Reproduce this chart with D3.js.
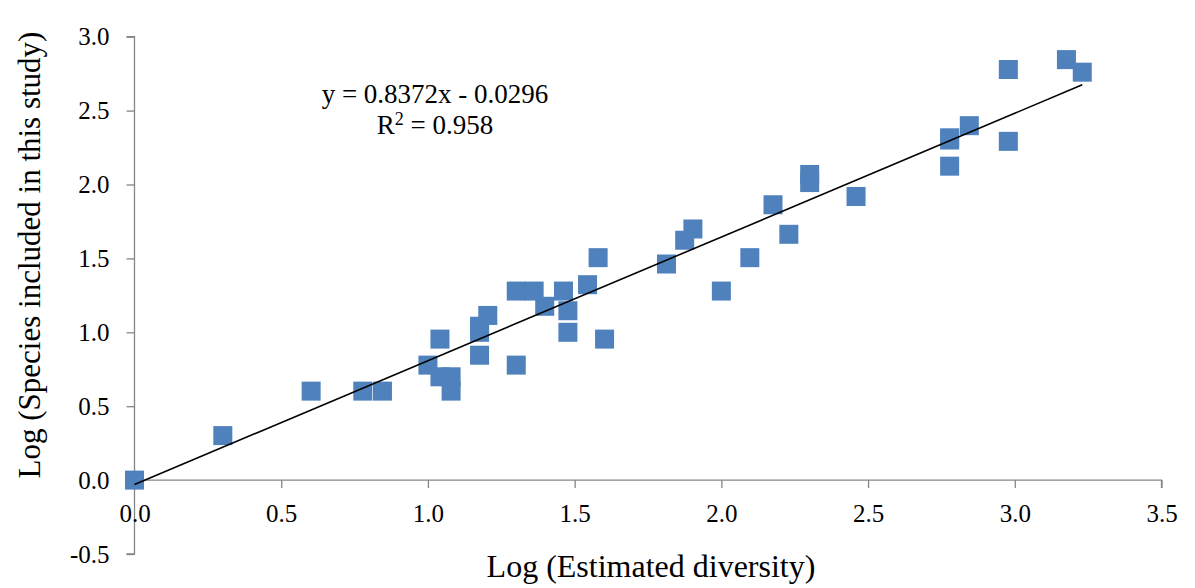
<!DOCTYPE html>
<html>
<head>
<meta charset="utf-8">
<script src="https://cdn.jsdelivr.net/npm/d3@7"></script>
<style>
  body { margin: 0; background: #fff; }
  .axis path, .axis line { stroke: #868686; stroke-width: 1.3; }
  .axis text { font-family: "Liberation Serif", serif; font-size: 25px; fill: #000; }
</style>
</head>
<body>
<div id="chart"></div>
<script>
// log values
const logEstimated = [0, 0.301, 0.602, 0.778, 0.845, 1.0, 1.041, 1.041, 1.079, 1.079,
    1.176, 1.176, 1.204, 1.176, 1.301, 1.362, 1.398, 1.462, 1.477, 1.477,
    1.301, 1.544, 1.580, 1.602, 1.813, 1.875, 1.903, 2.0, 2.097, 2.176,
    2.230, 2.301, 2.301, 2.459, 2.778, 2.778, 2.845, 2.778, 2.978, 2.978,
    3.176, 3.230];
const logIncluded = [0, 0.301, 0.602, 0.602, 0.602, 0.778, 0.954, 0.699, 0.699, 0.602,
    1.041, 1.0, 1.114, 0.845, 1.279, 1.279, 1.176, 1.279, 1.146, 1.0,
    0.778, 1.322, 1.505, 0.954, 1.462, 1.623, 1.699, 1.279, 1.505, 1.863,
    1.663, 2.068, 2.013, 1.919, 2.316, 2.301, 2.398, 2.124, 2.778, 2.292,
    2.845, 2.760];
const xTicks = [0, 0.5, 1.0, 1.5, 2.0, 2.5, 3.0, 3.5];
const yTicks = [-0.5, 0, 0.5, 1.0, 1.5, 2.0, 2.5, 3.0];
const slope = 0.8372, intercept = -0.0296, r2 = 0.958;

const W = 1195, H = 588;
const margin = { top: 36.7, right: 33.5, bottom: 34, left: 134.5 };
const width = W - margin.left - margin.right;
const height = H - margin.top - margin.bottom;

const fmt = d => d.toFixed(1);

const svg = d3.select('#chart')
    .append('svg')
    .attr('width', W)
    .attr('height', H)
    .append('g')
    .attr('transform', `translate(${margin.left},${margin.top})`);

const x = d3.scaleLinear().domain([0, 3.5]).range([0, width]);
const y = d3.scaleLinear().domain([-0.5, 3.0]).range([height, 0]);

// Y axis (left)
svg.append('g')
    .attr('class', 'axis')
    .call(d3.axisLeft(y).tickValues(yTicks).tickSize(8).tickPadding(17).tickFormat(fmt))
    .call(g => g.select('.domain').attr('d', `M-8,${y(-0.5)}H0V${y(3.0)}H-8`));

// X axis crossing at y = 0
svg.append('g')
    .attr('class', 'axis')
    .attr('transform', `translate(0,${y(0)})`)
    .call(d3.axisBottom(x).tickValues(xTicks).tickSize(8).tickPadding(16).tickFormat(fmt))
    .call(g => g.select('.domain').attr('d', `M0,0H${x(3.5)}V8`));

// points
const size = 19;
const pts = logEstimated.map((v, i) => ({ x: v, y: logIncluded[i] }));
svg.selectAll('.pt')
    .data(pts)
    .enter()
    .append('rect')
    .attr('class', 'pt')
    .attr('x', d => x(d.x) - size / 2)
    .attr('y', d => y(d.y) - size / 2)
    .attr('width', size)
    .attr('height', size)
    .attr('fill', '#4F81BD');

// linear trendline
const xMax = d3.max(logEstimated);
svg.append('line')
    .attr('x1', x(0))
    .attr('y1', y(intercept))
    .attr('x2', x(xMax))
    .attr('y2', y(slope * xMax + intercept))
    .attr('stroke', '#000')
    .attr('stroke-width', 1.6);

// equation label
svg.append('text')
    .attr('x', 435 - margin.left)
    .attr('y', 103 - margin.top)
    .attr('text-anchor', 'middle')
    .style('font-family', '"Liberation Serif", serif')
    .style('font-size', '27px')
    .text(`y = ${slope}x - ${Math.abs(intercept).toFixed(4)}`);

const r2Text = svg.append('text')
    .attr('x', 435 - margin.left)
    .attr('y', 134 - margin.top)
    .attr('text-anchor', 'middle')
    .style('font-family', '"Liberation Serif", serif')
    .style('font-size', '27px');
r2Text.append('tspan').text('R');
r2Text.append('tspan').attr('dy', -9).style('font-size', '18px').text('2');
r2Text.append('tspan').attr('dy', 9).text(` = ${r2}`);

// axis titles
svg.append('text')
    .attr('x', 651 - margin.left)
    .attr('y', 577 - margin.top)
    .attr('text-anchor', 'middle')
    .style('font-family', '"Liberation Serif", serif')
    .style('font-size', '32px')
    .text('Log (Estimated diversity)');

svg.append('text')
    .attr('transform', 'rotate(-90)')
    .attr('x', -(255 - margin.top))
    .attr('y', 40 - margin.left)
    .attr('text-anchor', 'middle')
    .style('font-family', '"Liberation Serif", serif')
    .style('font-size', '31px')
    .text('Log (Species included in this study)');
</script>
</body>
</html>
